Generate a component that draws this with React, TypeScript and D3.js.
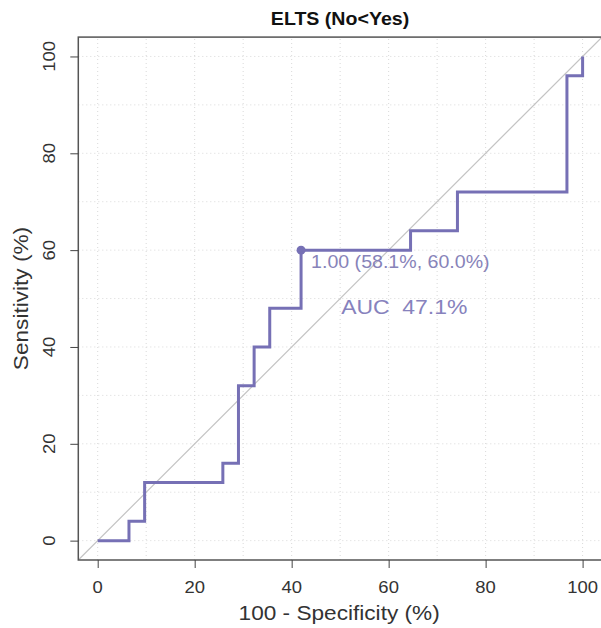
import React, { useRef, useEffect } from 'react';
import * as d3 from 'd3';

// ROC steps: 100 - specificity (%) and sensitivity (%)
const fpr = [0, 6.45, 9.68, 25.81, 29.03, 32.26, 35.48, 41.94, 64.52, 74.19, 96.77, 100];
const tpr = [0, 4, 12, 16, 32, 40, 48, 60, 64, 72, 96, 100];
const bestPoint = { x: 41.94, y: 60, label: '1.00 (58.1%, 60.0%)' };
const aucLabel = 'AUC  47.1%';
const ticks = [0, 20, 40, 60, 80, 100];
const gridTicks = [0, 10, 20, 30, 40, 50, 60, 70, 80, 90, 100];

const W = 601;
const H = 628;
const rocColor = '#7670b5';
const font = '"Liberation Sans", Arial, sans-serif';

const App = () => {
  const svgRef = useRef<SVGSVGElement>(null);

  useEffect(() => {
    const svg = d3.select(svgRef.current);
    svg.selectAll('*').remove();

    const x = d3.scaleLinear().domain([-4, 104]).range([78.3, 602]);
    const y = d3.scaleLinear().domain([-4, 104]).range([560, 37.1]);

    const stretch = 1.12;
    const addText = (tx: number, ty: number, txt: string, size: number, opts: any = {}) => {
      const g = svg.append('g').attr('transform', `translate(${tx},${ty}) rotate(${opts.rotate || 0}) scale(${stretch},1)`);
      g.append('text')
        .attr('text-anchor', opts.anchor || 'middle')
        .attr('font-family', font)
        .attr('font-size', size)
        .attr('font-weight', opts.weight || 'normal')
        .attr('fill', opts.fill || '#333')
        .style('white-space', 'pre')
        .text(txt);
    };

    // grid
    svg.append('g').selectAll('line').data(gridTicks).join('line')
      .attr('x1', d => x(d)).attr('x2', d => x(d))
      .attr('y1', y(-4)).attr('y2', y(104))
      .attr('stroke', '#d9d9d9').attr('stroke-width', 1).attr('stroke-dasharray', '1,3');
    svg.append('g').selectAll('line').data(gridTicks).join('line')
      .attr('y1', d => y(d)).attr('y2', d => y(d))
      .attr('x1', x(-4)).attr('x2', x(104))
      .attr('stroke', '#d9d9d9').attr('stroke-width', 1).attr('stroke-dasharray', '1,3');

    // diagonal
    svg.append('line')
      .attr('x1', x(-4)).attr('y1', y(-4)).attr('x2', x(104)).attr('y2', y(104))
      .attr('stroke', '#c4c4c4').attr('stroke-width', 1.2);

    // roc curve
    const line = d3.line<number>()
      .x((d, i) => x(fpr[i]))
      .y(d => y(d))
      .curve(d3.curveStepAfter);
    svg.append('path')
      .attr('d', line(tpr))
      .attr('fill', 'none')
      .attr('stroke', rocColor)
      .attr('stroke-width', 3);

    svg.append('circle')
      .attr('cx', x(bestPoint.x)).attr('cy', y(bestPoint.y)).attr('r', 4.5)
      .attr('fill', rocColor);

    addText(x(bestPoint.x) + 10, y(bestPoint.y) + 17.5, bestPoint.label, 17.5, { anchor: 'start', fill: '#8783b9' });
    addText(x(50) + 1, y(47.1) + 1.5, aucLabel, 20.5, { anchor: 'start', fill: '#8782bd' });

    // box
    svg.append('rect')
      .attr('x', x(-4)).attr('y', y(104))
      .attr('width', x(104) - x(-4)).attr('height', y(-4) - y(104))
      .attr('fill', 'none').attr('stroke', '#555').attr('stroke-width', 1.5);

    // x axis
    const xAxis = svg.append('g').attr('transform', `translate(0,${y(-4)})`)
      .call(d3.axisBottom(x).tickValues(ticks).tickSize(8).tickFormat(() => ''));
    xAxis.select('.domain').remove();
    xAxis.selectAll('line').attr('stroke', '#444');
    ticks.forEach(t => addText(x(t), 593, String(t), 16.5));

    // y axis
    const yAxis = svg.append('g').attr('transform', `translate(${x(-4)},0)`)
      .call(d3.axisLeft(y).tickValues(ticks).tickSize(8).tickFormat(() => ''));
    yAxis.select('.domain').remove();
    yAxis.selectAll('line').attr('stroke', '#444');
    ticks.forEach(t => addText(55, y(t), String(t), 16.5, { rotate: -90 }));

    addText((x(-4) + x(104)) / 2 - 1, 620, '100 - Specificity (%)', 20.2);
    addText(28, y(50), 'Sensitivity (%)', 20.2, { rotate: -90 });
    addText(340, 25, 'ELTS (No<Yes)', 17.5, { weight: 'bold', fill: '#111' });
  }, []);

  return (
    <svg ref={svgRef} width={W} height={H}
      style={{ position: 'absolute', left: 0, top: 0, background: '#fff' }} />
  );
};

export default App;
